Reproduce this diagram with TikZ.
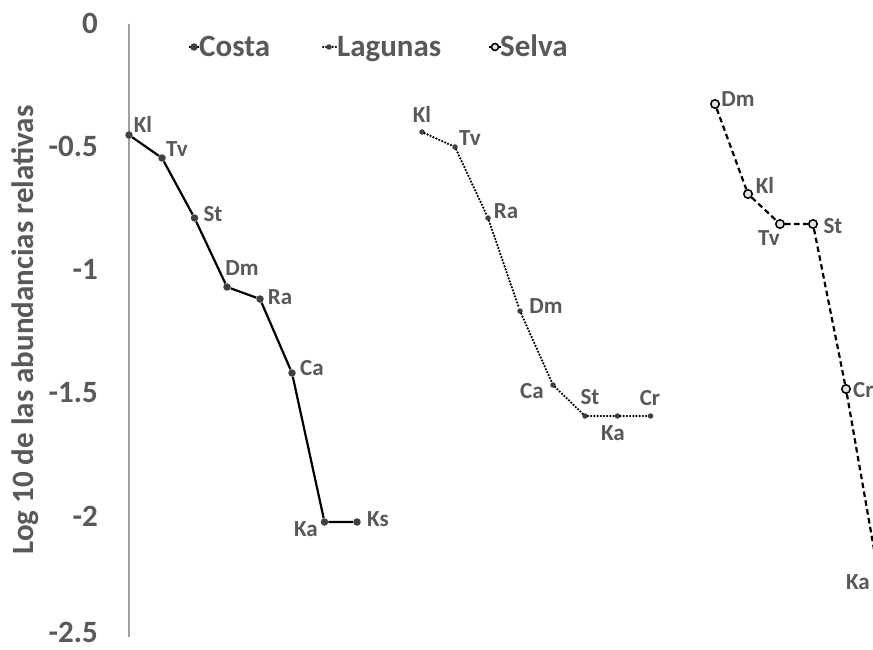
\documentclass[tikz,border=0pt]{standalone}
\usepackage{fontspec}
\setmainfont{Carlito}
\definecolor{txtgray}{RGB}{89,89,89}
\definecolor{mkgray}{RGB}{64,64,64}
\definecolor{axgray}{RGB}{160,160,160}
\definecolor{openfill}{RGB}{225,225,225}
\tikzset{
  lbl/.style={font=\fontsize{23}{23}\selectfont\bfseries, text=txtgray, inner sep=0pt},
  ticklbl/.style={font=\fontsize{31}{31}\selectfont\bfseries, text=txtgray, inner sep=0pt, anchor=east},
  leglbl/.style={font=\fontsize{31}{31}\selectfont\bfseries, text=txtgray, inner sep=0pt, anchor=base west},
  costamk/.style={circle, fill=mkgray, inner sep=0pt, minimum size=7.5pt},
  lagmk/.style={circle, fill=mkgray, inner sep=0pt, minimum size=5.5pt},
  selvamk/.style={circle, draw=black, fill=openfill, line width=1.5pt, inner sep=0pt, minimum size=8.5pt},
  costaline/.style={line width=2.2pt, black},
  lagline/.style={line width=2.5pt, black, line cap=round, dash pattern=on 0pt off 3.2pt},
  selvaline/.style={line width=2.2pt, black, dash pattern=on 5.5pt off 3.5pt},
}
\begin{document}
\begin{tikzpicture}[x=1pt, y=-1pt]
\useasboundingbox (0,0) rectangle (873,650);
\clip (0,0) rectangle (873,650);
\fill[white] (0,0) rectangle (873,650);
% axis
\coordinate (axtop) at (129,24);
\coordinate (axbot) at (129,637);
\draw[axgray, line width=1.2pt] (axtop) -- (axbot);
% tick labels
\node[ticklbl] (t0) at (98,23) {0};
\node[ticklbl] (t1) at (98,146) {-0.5};
\node[ticklbl] (t2) at (98,269.5) {-1};
\node[ticklbl] (t3) at (98,393) {-1.5};
\node[ticklbl] (t4) at (98,516) {-2};
\node[ticklbl] (t5) at (98,632) {-2.5};
% axis title
\node[font=\fontsize{31}{31}\selectfont\bfseries, text=txtgray, inner sep=0pt, rotate=90, anchor=base] (ytitle) at (34,330) {Log 10 de las abundancias relativas};
% legend
\coordinate (lc1) at (189,47); \coordinate (lc2) at (199,47);
\draw[costaline] (lc1) -- (lc2);
\node[costamk] (lcm) at (194,47) {};
\node[leglbl] (lct) at (199,57) {Costa};
\coordinate (ll1) at (323,47); \coordinate (ll2) at (336,47);
\draw[lagline] (ll1) -- (ll2);
\node[lagmk] (llm) at (329,47) {};
\node[leglbl] (llt) at (337,57) {Lagunas};
\coordinate (ls1) at (489,47); \coordinate (ls2) at (501,47);
\draw[selvaline, dash pattern=on 3pt off 2pt] (ls1) -- (ls2);
\node[selvamk, minimum size=7pt] (lsm) at (495,47) {};
\node[leglbl] (lst) at (500,57) {Selva};
% Costa
\node[costamk] (cKl) at (129,135) {};
\node[costamk] (cTv) at (162,158) {};
\node[costamk] (cSt) at (194.5,218) {};
\node[costamk] (cDm) at (227,287) {};
\node[costamk] (cRa) at (260,299) {};
\node[costamk] (cCa) at (292,373) {};
\node[costamk] (cKa) at (324.5,522) {};
\node[costamk] (cKs) at (357,522) {};
\draw[costaline] (cKl) -- (cTv) -- (cSt) -- (cDm) -- (cRa) -- (cCa) -- (cKa) -- (cKs);
\node[lbl] (cKlL) at (143,124) {Kl};
\node[lbl] (cTvL) at (177,149) {Tv};
\node[lbl] (cStL) at (213,214) {St};
\node[lbl] (cDmL) at (242,268) {Dm};
\node[lbl] (cRaL) at (280,297) {Ra};
\node[lbl] (cCaL) at (312,368) {Ca};
\node[lbl] (cKaL) at (306,529) {Ka};
\node[lbl] (cKsL) at (378,519) {Ks};
% Lagunas
\node[lagmk] (lKl) at (422,132) {};
\node[lagmk] (lTv) at (455,147) {};
\node[lagmk] (lRa) at (488,218) {};
\node[lagmk] (lDm) at (520,311) {};
\node[lagmk] (lCa) at (553,385) {};
\node[lagmk] (lSt) at (585,416) {};
\node[lagmk] (lKa) at (617.5,416) {};
\node[lagmk] (lCr) at (650.5,416) {};
\draw[lagline] (lKl) -- (lTv) -- (lRa) -- (lDm) -- (lCa) -- (lSt) -- (lKa) -- (lCr);
\node[lbl] (lKlL) at (422,114) {Kl};
\node[lbl] (lTvL) at (470,138) {Tv};
\node[lbl] (lRaL) at (506,211) {Ra};
\node[lbl] (lDmL) at (546,306) {Dm};
\node[lbl] (lCaL) at (532,391) {Ca};
\node[lbl] (lStL) at (590,397) {St};
\node[lbl] (lKaL) at (613,433) {Ka};
\node[lbl] (lCrL) at (650,398) {Cr};
% Selva
\node[selvamk] (sDm) at (715,104) {};
\node[selvamk] (sKl) at (748,194) {};
\node[selvamk] (sTv) at (780,224) {};
\node[selvamk] (sSt) at (813,224) {};
\node[selvamk] (sCr) at (846,389) {};
\node[selvamk] (sKa) at (879,578) {};
\draw[selvaline] (sDm) -- (sKl) -- (sTv) -- (sSt) -- (sCr) -- (sKa);
\node[lbl] (sDmL) at (738,99) {Dm};
\node[lbl] (sKlL) at (765,185) {Kl};
\node[lbl] (sTvL) at (769,238) {Tv};
\node[lbl] (sStL) at (833,226) {St};
\node[lbl, anchor=west] (sCrL) at (853,390) {Cr};
\node[lbl] (sKaL) at (858,582) {Ka};
\end{tikzpicture}
\end{document}
